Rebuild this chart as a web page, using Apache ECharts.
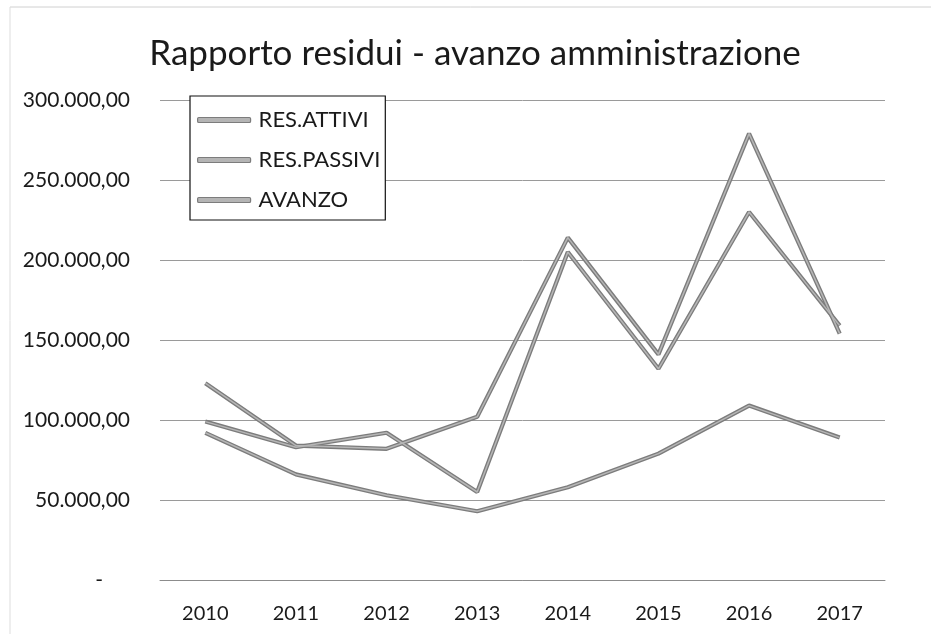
<!DOCTYPE html>
<html>
<head>
<meta charset="utf-8">
<script src="https://cdn.jsdelivr.net/npm/echarts@6/dist/echarts.min.js"></script>
<style>
  html, body { margin: 0; padding: 0; background: #ffffff; }
  #chart { width: 931px; height: 634px; }
</style>
</head>
<body>
<div id="chart"></div>
<script>
// Years on the category axis
const years = ['2010', '2011', '2012', '2013', '2014', '2015', '2016', '2017'];

// Series values (euro)
const resAttivi  = [123000, 84000, 82000, 102000, 214000, 141000, 279000, 154000];
const resPassivi = [99000, 83000, 92000, 55000, 205000, 132000, 230000, 159000];
const avanzo     = [92000, 66000, 53000, 43000, 58000, 79000, 109000, 89000];

const seriesNames = ['RES.ATTIVI', 'RES.PASSIVI', 'AVANZO'];
const seriesData = [resAttivi, resPassivi, avanzo];

// Value axis ticks
const yMin = 0, yMax = 300000, yStep = 50000;

const FONT = 'Lato';

function formatEuro(v) {
  const intPart = Math.round(v).toString().replace(/\B(?=(\d{3})+(?!\d))/g, '.');
  return intPart + ',00';
}

const chart = echarts.init(document.getElementById('chart'), null, { renderer: 'canvas' });

// Each line is drawn as a dark outer stroke with a lighter core on top
const series = [];
seriesNames.forEach((name, i) => {
  series.push({
    name: name,
    type: 'line',
    data: seriesData[i],
    symbol: 'none',
    z: 3,
    lineStyle: { color: '#7c7c7c', width: 4.2 },
    itemStyle: { color: '#b4b4b4', borderColor: '#7c7c7c', borderWidth: 1.2 },
    emphasis: { disabled: true }
  });
});
seriesNames.forEach((name, i) => {
  series.push({
    name: name + ' ',
    type: 'line',
    data: seriesData[i],
    symbol: 'none',
    z: 4,
    silent: true,
    lineStyle: { color: '#b6b6b6', width: 1.5 },
    emphasis: { disabled: true }
  });
});

chart.setOption({
  backgroundColor: '#ffffff',
  animation: false,
  textStyle: { fontFamily: FONT, color: '#1a1a1a' },
  title: {
    text: 'Rapporto residui - avanzo amministrazione',
    left: 470,
    textAlign: 'center',
    top: 31,
    textStyle: { fontFamily: FONT, fontSize: 35, fontWeight: 'normal', color: '#1a1a1a' }
  },
  legend: {
    data: seriesNames,
    orient: 'vertical',
    left: 190,
    top: 96,
    padding: [13, 5, 9, 7],
    itemGap: 18,
    itemWidth: 53,
    itemHeight: 5,
    icon: 'roundRect',
    itemStyle: { color: '#b4b4b4', borderColor: '#7c7c7c', borderWidth: 1.2 },
    backgroundColor: '#ffffff',
    borderColor: '#111111',
    borderWidth: 1.2,
    borderRadius: 0,
    selectedMode: false,
    textStyle: { fontFamily: FONT, fontSize: 22, color: '#1a1a1a', padding: [0, 0, 0, 3] }
  },
  grid: { left: 160, right: 46, top: 100, bottom: 54, containLabel: false },
  xAxis: {
    type: 'category',
    data: years,
    boundaryGap: true,
    axisLine: { show: true, lineStyle: { color: '#8c8c8c', width: 1 } },
    axisTick: { show: false },
    axisLabel: { fontFamily: FONT, fontSize: 20, color: '#1a1a1a', margin: 24 }
  },
  yAxis: {
    type: 'value',
    min: yMin,
    max: yMax,
    interval: yStep,
    axisLine: { show: false },
    axisTick: { show: false },
    splitLine: { lineStyle: { color: '#9a9a9a', width: 1 } },
    axisLabel: {
      fontFamily: FONT,
      fontSize: 21,
      color: '#1a1a1a',
      margin: 30,
      formatter: v => v === 0 ? '{dash|-}' : formatEuro(v),
      rich: { dash: { fontFamily: FONT, fontSize: 21, color: '#1a1a1a', padding: [0, 27, 0, 0] } }
    }
  },
  graphic: [
    { type: 'line', shape: { x1: 10, y1: 7, x2: 931, y2: 7 }, style: { stroke: '#d0d0d0', lineWidth: 1 }, silent: true },
    { type: 'line', shape: { x1: 10, y1: 7, x2: 10, y2: 634 }, style: { stroke: '#dddddd', lineWidth: 1 }, silent: true }
  ],
  series: series
});
</script>
</body>
</html>
